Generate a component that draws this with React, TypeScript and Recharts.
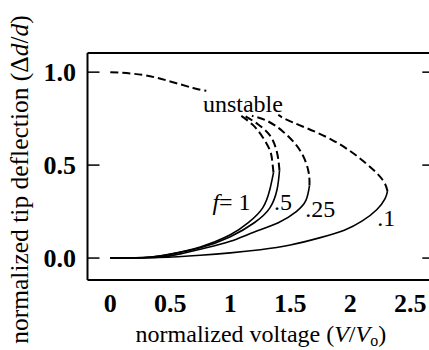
import { LineChart, Line, XAxis, YAxis, ReferenceDot, Label } from 'recharts'

const serif = '"Liberation Serif", "Times New Roman", serif'

// tick positions / labels
const xTicks = [0, 0.5, 1, 1.5, 2, 2.5]
const xTickLabels = ['0', '0.5', '1', '1.5', '2', '2.5']
const yTicks = [0, 0.5, 1]
const yTickLabels = ['0.0', '0.5', '1.0']

// upper unstable branch (common)
const topUnstable = [
  { v: 0, d: 1.0 }, { v: 0.27, d: 0.985 }, { v: 0.5, d: 0.95 }, { v: 0.69, d: 0.915 }, { v: 0.8, d: 0.9 },
]

// stable branches (solid), from origin up to the turning point
const f1Stable = [
  { v: 0, d: 0 }, { v: 0.3, d: 0.004 }, { v: 0.5, d: 0.022 }, { v: 0.75, d: 0.06 }, { v: 1.0, d: 0.125 },
  { v: 1.15, d: 0.19 }, { v: 1.27, d: 0.27 }, { v: 1.33, d: 0.37 }, { v: 1.36, d: 0.46 },
]
const f05Stable = [
  { v: 0, d: 0 }, { v: 0.3, d: 0.003 }, { v: 0.5, d: 0.02 }, { v: 0.75, d: 0.055 }, { v: 1.0, d: 0.115 },
  { v: 1.2, d: 0.19 }, { v: 1.33, d: 0.27 }, { v: 1.39, d: 0.37 }, { v: 1.41, d: 0.47 },
]
const f025Stable = [
  { v: 0, d: 0 }, { v: 0.4, d: 0.005 }, { v: 0.6, d: 0.025 }, { v: 0.8, d: 0.055 }, { v: 1.0, d: 0.09 },
  { v: 1.2, d: 0.14 }, { v: 1.4, d: 0.19 }, { v: 1.55, d: 0.25 }, { v: 1.63, d: 0.31 }, { v: 1.66, d: 0.39 },
]
const f01Stable = [
  { v: 0, d: 0 }, { v: 0.4, d: 0.003 }, { v: 0.75, d: 0.015 }, { v: 1.0, d: 0.028 }, { v: 1.25, d: 0.045 },
  { v: 1.5, d: 0.07 }, { v: 1.75, d: 0.11 }, { v: 1.95, d: 0.15 }, { v: 2.1, d: 0.2 }, { v: 2.22, d: 0.26 },
  { v: 2.29, d: 0.32 }, { v: 2.31, d: 0.36 },
]

// unstable branches (dashed), from the turning point upwards
const f1Unstable = [
  { v: 1.36, d: 0.46 }, { v: 1.35, d: 0.52 }, { v: 1.33, d: 0.58 }, { v: 1.27, d: 0.65 }, { v: 1.19, d: 0.715 }, { v: 1.08, d: 0.77 },
]
const f05Unstable = [
  { v: 1.41, d: 0.47 }, { v: 1.4, d: 0.53 }, { v: 1.38, d: 0.59 }, { v: 1.33, d: 0.66 }, { v: 1.23, d: 0.72 }, { v: 1.12, d: 0.765 },
]
const f025Unstable = [
  { v: 1.66, d: 0.39 }, { v: 1.65, d: 0.47 }, { v: 1.58, d: 0.58 }, { v: 1.44, d: 0.68 }, { v: 1.3, d: 0.74 }, { v: 1.18, d: 0.765 },
]
const f01Unstable = [
  { v: 2.31, d: 0.36 }, { v: 2.27, d: 0.42 }, { v: 2.13, d: 0.51 }, { v: 1.85, d: 0.635 }, { v: 1.52, d: 0.73 }, { v: 1.4, d: 0.77 },
]

const stableSeries = [f1Stable, f05Stable, f025Stable, f01Stable]
const unstableSeries = [topUnstable, f1Unstable, f05Unstable, f025Unstable, f01Unstable]

const xDomain = [-0.19, 2.7]
const yDomain = [-0.118, 1.103]

const XTitle = (props: any) => {
  const { viewBox } = props
  const cx = viewBox.x + viewBox.width / 2
  return (
    <text x={cx} y={viewBox.y + 62} textAnchor="middle" fontFamily={serif} fontSize={24} fill="#000">
      normalized voltage (<tspan fontStyle="italic">V</tspan>/<tspan fontStyle="italic">V</tspan>
      <tspan fontSize={16} dy={4}>o</tspan>
      <tspan dy={-4}>)</tspan>
    </text>
  )
}

const YTitle = (props: any) => {
  const { viewBox } = props
  const cy = viewBox.y + viewBox.height / 2 + 13
  return (
    <text x={28} y={cy} transform={`rotate(-90, 28, ${cy})`} textAnchor="middle" fontFamily={serif} fontSize={25.5} fill="#000">
      normalized tip deflection (Δ<tspan fontStyle="italic">d</tspan>/<tspan fontStyle="italic">d</tspan>)
    </text>
  )
}

const textLabel = (content: any) => (p: any) => (
  <text x={p.cx} y={p.cy} textAnchor="middle" fontFamily={serif} fontSize={24} fill="#000">
    {content}
  </text>
)

// tick marks only, no text
const noText = () => <g />

const frame = { stroke: '#000', strokeWidth: 2 }
const tickStroke = { stroke: '#000', strokeWidth: 1.5 }
const tickFont = { fill: '#000', fontSize: 26, fontWeight: 'bold', fontFamily: serif }

export default function App() {
  return (
    <div style={{ position: 'absolute', left: 0, top: 0, width: 429, height: 350, overflow: 'hidden', background: '#fff' }}>
      <LineChart width={440} height={350} margin={{ top: 53, right: 5.7, bottom: 0, left: 0 }}>
        {/* labelled axes */}
        <XAxis
          dataKey="v"
          type="number"
          domain={xDomain}
          allowDataOverflow
          ticks={xTicks}
          interval={0}
          tickFormatter={(v, i) => xTickLabels[i]}
          height={70}
          tickSize={0}
          tickMargin={14}
          tickLine={false}
          axisLine={frame}
          tick={tickFont}
        >
          <Label content={XTitle} />
        </XAxis>
        <YAxis
          type="number"
          domain={yDomain}
          allowDataOverflow
          ticks={yTicks}
          interval={0}
          tickFormatter={(v, i) => yTickLabels[i]}
          width={87.5}
          tickSize={0}
          tickMargin={11.5}
          tickLine={false}
          axisLine={frame}
          tick={tickFont}
        >
          <Label content={YTitle} />
        </YAxis>

        {/* inward ticks on all four sides */}
        <XAxis xAxisId="bt" orientation="bottom" mirror type="number" domain={xDomain} allowDataOverflow
          ticks={xTicks} interval={0} height={11} tickSize={11} tick={noText} axisLine={false} tickLine={tickStroke} />
        <XAxis xAxisId="top" orientation="top" mirror type="number" domain={xDomain} allowDataOverflow
          ticks={xTicks} interval={0} height={11} tickSize={11} tick={noText} axisLine={frame} tickLine={tickStroke} />
        <YAxis yAxisId="lt" orientation="left" mirror type="number" domain={yDomain} allowDataOverflow
          ticks={yTicks} interval={0} width={12} tickSize={12} tick={noText} axisLine={false} tickLine={tickStroke} />
        <YAxis yAxisId="right" orientation="right" mirror type="number" domain={yDomain} allowDataOverflow
          ticks={yTicks} interval={0} width={12} tickSize={12} tick={noText} axisLine={frame} tickLine={tickStroke} />

        {stableSeries.map((s, i) => (
          <Line
            key={'s' + i}
            data={s}
            dataKey="d"
            type="natural"
            stroke="#000"
            strokeWidth={1.6}
            dot={false}
            activeDot={false}
            isAnimationActive={false}
          />
        ))}
        {unstableSeries.map((s, i) => (
          <Line
            key={'u' + i}
            data={s}
            dataKey="d"
            type="natural"
            stroke="#000"
            strokeWidth={2}
            strokeDasharray="8 4"
            dot={false}
            activeDot={false}
            isAnimationActive={false}
          />
        ))}

        <ReferenceDot x={1.105} y={0.785} r={0} shape={textLabel('unstable')} />
        <ReferenceDot
          x={1.01}
          y={0.258}
          r={0}
          shape={textLabel(<><tspan fontStyle="italic">f</tspan>= 1</>)}
        />
        <ReferenceDot x={1.44} y={0.258} r={0} shape={textLabel('.5')} />
        <ReferenceDot x={1.75} y={0.22} r={0} shape={textLabel('.25')} />
        <ReferenceDot x={2.3} y={0.172} r={0} shape={textLabel('.1')} />
      </LineChart>
    </div>
  )
}
